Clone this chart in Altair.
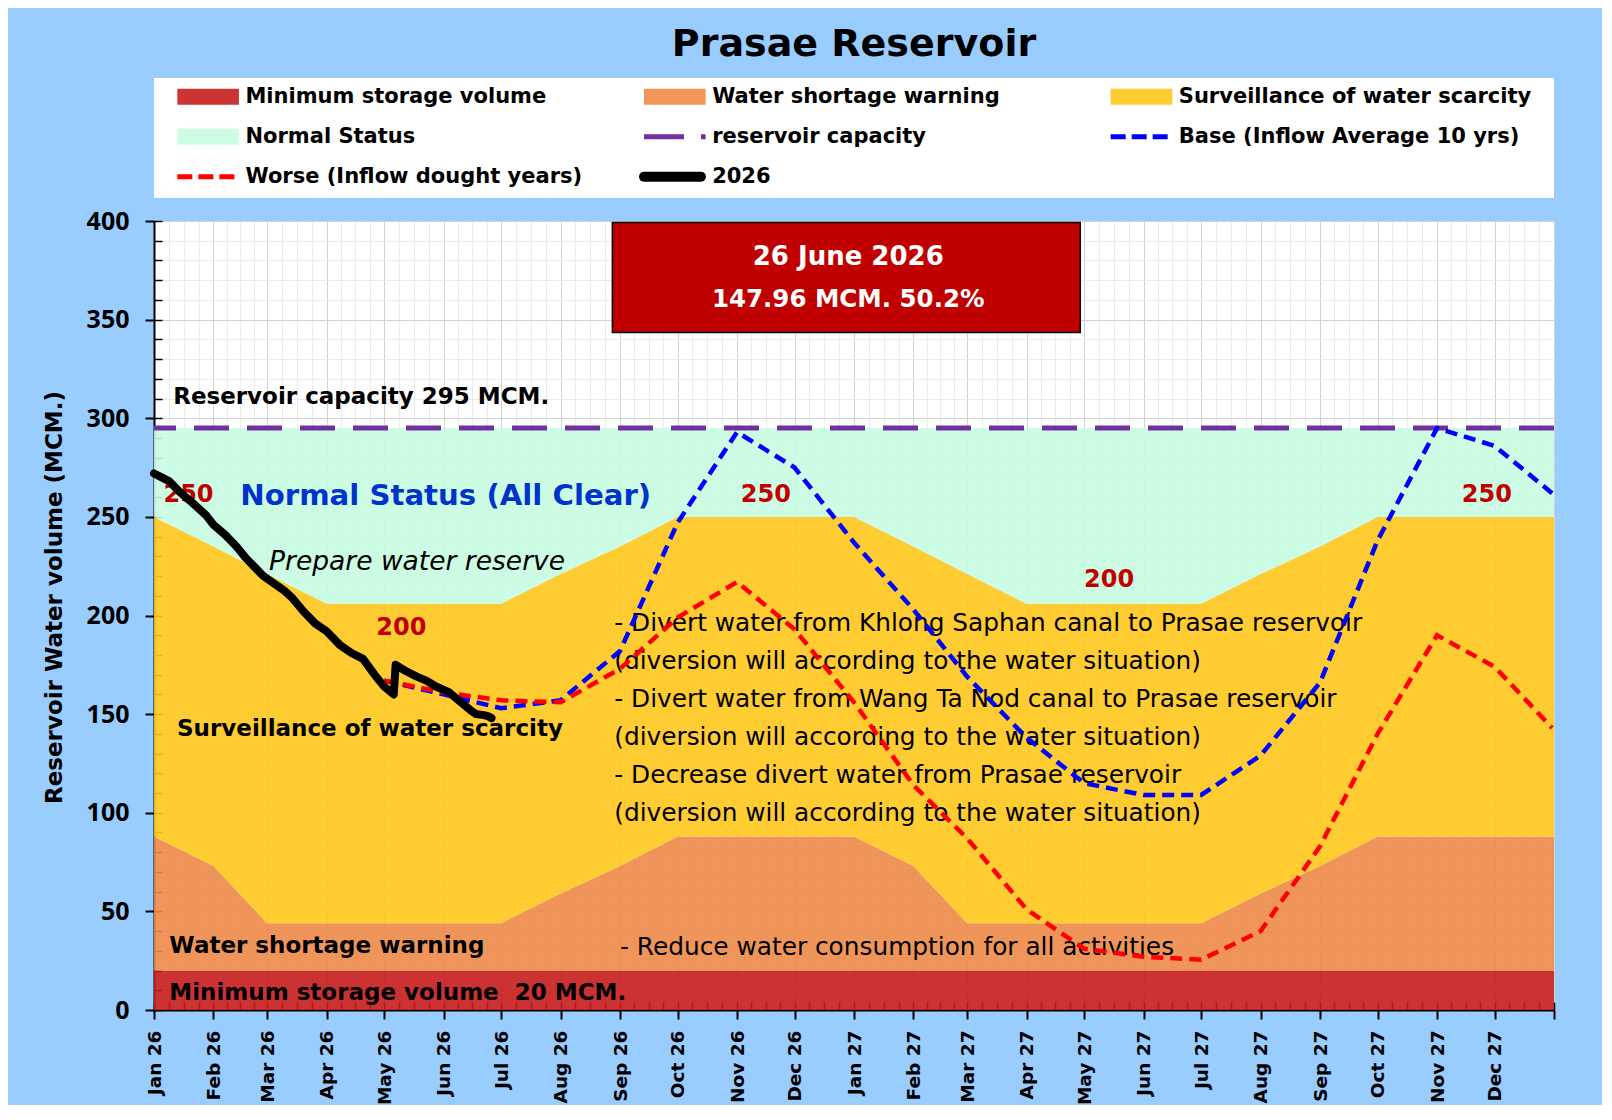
import altair as alt
import pandas as pd

# ---------------- data ----------------
month_dates = [
    "2026-01-01", "2026-02-01", "2026-03-01", "2026-04-01", "2026-05-01", "2026-06-01",
    "2026-07-01", "2026-08-01", "2026-09-01", "2026-10-01", "2026-11-01", "2026-12-01",
    "2027-01-01", "2027-02-01", "2027-03-01", "2027-04-01", "2027-05-01", "2027-06-01",
    "2027-07-01", "2027-08-01", "2027-09-01", "2027-10-01", "2027-11-01", "2027-12-01",
    "2028-01-01"]
upper_rule = [250, 235, 221, 206, 206, 206, 206, 221, 235, 250, 250, 250, 250,
              235, 221, 206, 206, 206, 206, 221, 235, 250, 250, 250, 250]
lower_rule = [88, 73, 44, 44, 44, 44, 44, 59, 73, 88, 88, 88, 88,
              73, 44, 44, 44, 44, 44, 59, 73, 88, 88, 88, 88]
min_storage = 20
capacity = 295

forecast_dates = [
    "2026-05-01", "2026-06-01", "2026-07-01", "2026-08-01", "2026-09-01", "2026-10-01",
    "2026-11-01", "2026-12-01", "2027-01-01", "2027-02-01", "2027-03-01", "2027-04-01",
    "2027-05-01", "2027-06-01", "2027-07-01", "2027-08-01", "2027-09-01", "2027-10-01",
    "2027-11-01", "2027-12-01", "2027-12-31"]
base_inflow = [167, 160, 153, 157, 182, 247, 293, 275, 237, 203, 169, 138, 115,
               109, 109, 129, 166, 238, 295, 286, 262]
worse_inflow = [167, 161, 157, 156, 173, 199, 217, 193, 156, 114, 87, 51, 31,
                27, 25.5, 40, 83, 140, 190, 174, 143]

obs_dates = [
    "2026-01-01", "2026-01-05", "2026-01-09", "2026-01-14", "2026-01-20", "2026-01-28",
    "2026-02-01", "2026-02-07", "2026-02-13", "2026-02-18", "2026-02-23", "2026-02-27",
    "2026-03-05", "2026-03-10", "2026-03-14", "2026-03-20", "2026-03-26", "2026-04-01",
    "2026-04-08", "2026-04-14", "2026-04-20", "2026-04-26", "2026-05-01", "2026-05-06",
    "2026-05-07", "2026-05-12", "2026-05-18", "2026-05-23", "2026-05-28", "2026-06-04",
    "2026-06-10", "2026-06-15", "2026-06-18", "2026-06-22", "2026-06-24", "2026-06-26"]
obs_2026 = [272, 270, 268, 263, 258, 251, 246, 241, 235, 229, 224, 220, 216, 212.5,
            209, 202, 196, 192, 185, 181, 178, 170, 164, 160, 175, 172, 169, 167,
            164, 161, 156, 152, 150, 149.5, 149, 147.96]

legend_labels = ["Minimum storage volume", "Water shortage warning",
                 "Surveillance of water scarcity", "Normal Status", "reservoir capacity",
                 "Base (Inflow Average 10 yrs)", "Worse (Inflow dought years)", "2026"]

# annotation texts
zone_texts = ["Reservoir capacity 295 MCM.", "Surveillance of water scarcity",
              "Water shortage warning", "Minimum storage volume\u00a0 20 MCM."]
zone_dates = ["2026-01-11", "2026-01-13", "2026-01-09", "2026-01-09"]
zone_values = [310.6, 142.6, 32.6, 8.6]

rule_texts = ["250", "200", "250", "200", "250"]
rule_dates = ["2026-01-19", "2026-05-10", "2026-11-16", "2027-05-14", "2027-11-27"]
rule_values = [261, 193.8, 261, 218, 261]

action_texts = [
    "- Divert water from Khlong Saphan canal to Prasae reservoir",
    "(diversion will according to the water situation)",
    "- Divert water from Wang Ta Nod canal to Prasae reservoir",
    "(diversion will according to the water situation)",
    "- Decrease divert water from Prasae reservoir",
    "(diversion will according to the water situation)",
    "- Reduce water consumption for all activities"]
action_dates = ["2026-08-29"] * 6 + ["2026-09-01"]
action_values = [195.8, 176.5, 157.2, 137.9, 118.6, 99.3, 31.6]

box_texts = ["26 June 2026", "147.96 MCM. 50.2%"]
box_text_values = [382, 360]

# ---------------- colours / fonts ----------------
BG = "#99CCFF"
C_RED, C_ORANGE, C_YELLOW, C_GREEN = "#CC3333", "#F0965A", "#FFCC33", "#CCFCE4"
F_RED, F_ORANGE, F_YELLOW, F_GREEN = "#C61C1C", "#EE8A48", "#FFC61C", "#C6FCE1"
PURPLE = "#7030A0"
FONT = "DejaVu Sans"

# ---------------- frames ----------------
bands = pd.DataFrame({"date": month_dates, "lower": lower_rule, "upper": upper_rule})
bands["floor"] = 0
bands["minv"] = min_storage
bands["cap"] = capacity

fc = pd.DataFrame({"date": forecast_dates, "base": base_inflow, "worse": worse_inflow})
obs = pd.DataFrame({"date": obs_dates, "v": obs_2026})

md = pd.to_datetime(month_dates, utc=True)
major_ticks = [int(t.timestamp() * 1000) for t in md]
minor_ticks = []
for a, b in zip(md[:-1], md[1:]):
    for k in range(4):
        minor_ticks.append(int((a + (b - a) * k / 4).timestamp() * 1000))
minor_ticks.append(major_ticks[-1])

W, H = 1400, 789
XS = alt.Scale(type="utc", nice=False,
               domain=[alt.DateTime(year=2026, month=1, date=1, utc=True),
                       alt.DateTime(year=2028, month=1, date=1, utc=True)])
YS = alt.Scale(domain=[0, 400], nice=False)

x_grid = alt.Axis(values=minor_ticks, orient="bottom", labels=False, ticks=False,
                  domain=False, grid=True, gridColor="#EAEAEA", gridWidth=1, title=None)
y_grid = alt.Axis(values=list(range(0, 401, 10)), orient="left", labels=False,
                  ticks=False, domain=False, grid=True, gridColor="#EAEAEA",
                  gridWidth=1, title=None)
x_major = alt.Axis(values=major_ticks, orient="bottom",
                   labelExpr=f"datum.value >= {major_ticks[-1]} ? '' : utcFormat(datum.value, '%b %y')",
                   labelAngle=270, labelFont=FONT, labelFontWeight="bold",
                   labelFontSize=18.5, labelColor="black", labelPadding=11,
                   labelFlush=False, labelOverlap=False, labelBound=False,
                   tickSize=9, tickWidth=2, tickColor="black",
                   domainColor="black", domainWidth=2, grid=True,
                   gridColor="#D2D2D2", gridWidth=1, title=None)
y_major = alt.Axis(values=list(range(0, 401, 50)), orient="left",
                   labelFont="Noto Sans", labelFontWeight="bold", labelFontSize=25,
                   labelColor="black", labelPadding=16, tickSize=9, tickWidth=2,
                   tickColor="black", domainColor="black", domainWidth=2, grid=True,
                   gridColor="#D2D2D2", gridWidth=1,
                   title="Reservoir Water volume (MCM.)", titleFont=FONT,
                   titleFontSize=23, titleFontWeight="bold", titleColor="black",
                   titlePadding=20, titleY=376)
x_in = alt.Axis(values=minor_ticks, orient="top", offset=-H, labels=False,
                domain=False, grid=False, tickSize=8, tickWidth=1.5,
                tickColor="black", title=None)
y_in = alt.Axis(values=list(range(0, 401, 10)), orient="right", offset=-W,
                labels=False, domain=False, grid=False, tickSize=8, tickWidth=1.5,
                tickColor="black", title=None)


def X(field="date", axis=None):
    return alt.X(f"{field}:T", scale=XS, axis=axis, title=None)


def Y(field, axis=None):
    return alt.Y(f"{field}:Q", scale=YS, axis=axis)


b = alt.Chart(bands)
red_band = b.mark_area(color=F_RED, opacity=0.9).encode(
    x=X(axis=x_grid), y=Y("floor", y_grid), y2="minv:Q")
orange_band = b.mark_area(color=F_ORANGE, opacity=0.9).encode(
    x=X(axis=x_major), y=Y("minv", y_major), y2="lower:Q")
yellow_band = b.mark_area(color=F_YELLOW, opacity=0.9).encode(
    x=X(axis=x_in), y=Y("lower", y_in), y2="upper:Q")
green_band = b.mark_area(color=F_GREEN, opacity=0.9).encode(
    x=X(), y=Y("upper"), y2="cap:Q")

cap_rule = alt.Chart(bands.head(1)).mark_rule(
    color=PURPLE, strokeWidth=5, strokeDash=[35, 18]).encode(
    y=Y("cap"))

box_df = pd.DataFrame({"x0": ["2026-08-28"], "x1": ["2027-04-29"],
                       "y0": [343.5], "y1": [399.3]})
box = alt.Chart(box_df).mark_rect(fill="#C00000", stroke="black", strokeWidth=1.5).encode(
    x=X("x0"), x2="x1:T", y=Y("y0"), y2="y1:Q")

box_txt_df = pd.DataFrame({"date": ["2026-12-29"] * 2, "v": box_text_values,
                           "t": box_texts, "fs": [26, 24.5]})
box_txt = alt.Chart(box_txt_df).mark_text(
    font=FONT, fontWeight="bold", color="white",
    align="center", baseline="middle").encode(
    x=X(), y=Y("v"), text="t:N", size=alt.Size("fs:Q", scale=None, legend=None))

zone_df = pd.DataFrame({"date": zone_dates, "v": zone_values, "t": zone_texts})
zone_txt = alt.Chart(zone_df).mark_text(
    font=FONT, fontWeight="bold", fontSize=23, color="black",
    align="left", baseline="middle").encode(x=X(), y=Y("v"), text="t:N")

rule_df = pd.DataFrame({"date": rule_dates, "v": rule_values, "t": rule_texts})
rule_txt = alt.Chart(rule_df).mark_text(
    font=FONT, fontWeight="bold", fontSize=24, color="#C00000",
    align="center", baseline="middle").encode(x=X(), y=Y("v"), text="t:N")

normal_df = pd.DataFrame({"date": ["2026-02-15"], "v": [260.5], "t": ["Normal Status (All Clear)"]})
normal_txt = alt.Chart(normal_df).mark_text(
    font=FONT, fontWeight="bold", fontSize=29.2, color="#0033CC",
    align="left", baseline="middle").encode(x=X(), y=Y("v"), text="t:N")

prep_df = pd.DataFrame({"date": ["2026-03-02"], "v": [227], "t": ["Prepare water reserve"]})
prep_txt = alt.Chart(prep_df).mark_text(
    font=FONT, fontStyle="italic", fontSize=26.5, color="black",
    align="left", baseline="middle").encode(x=X(), y=Y("v"), text="t:N")

act_df = pd.DataFrame({"date": action_dates, "v": action_values, "t": action_texts})
act_txt = alt.Chart(act_df).mark_text(
    font=FONT, fontSize=24.8, color="black",
    align="left", baseline="middle").encode(x=X(), y=Y("v"), text="t:N")

fcc = alt.Chart(fc)
base_line = fcc.mark_line(color="#0000FF", strokeWidth=4.5, strokeDash=[12, 7]).encode(
    x=X(), y=Y("base"))
worse_line = fcc.mark_line(color="#FF0000", strokeWidth=4.5, strokeDash=[12, 7]).encode(
    x=X(), y=Y("worse"))
obs_line = alt.Chart(obs).mark_line(color="black", strokeWidth=8, strokeCap="round",
                                    strokeJoin="round").encode(x=X(), y=Y("v"))

main = alt.layer(
    red_band, orange_band, yellow_band, green_band, cap_rule, box, box_txt,
    zone_txt, rule_txt, normal_txt, prep_txt, act_txt,
    base_line, worse_line, obs_line
).resolve_axis(x="independent", y="independent").properties(width=W, height=H)

# ---------------- legend panel ----------------
cols = [0, 1, 2, 0, 1, 2, 0, 1]
rows = [0, 0, 0, 1, 1, 1, 2, 2]
leg = pd.DataFrame({"label": legend_labels, "col": cols, "row": rows})
leg["x0"] = leg["col"] + 0.05
leg["x1"] = leg["col"] + 0.182
leg["xt"] = leg["col"] + 0.196
leg["yc"] = leg["row"] + 0.47
leg["ylo"] = leg["yc"] - 0.2
leg["yhi"] = leg["yc"] + 0.2
leg["fill"] = [C_RED, C_ORANGE, C_YELLOW, C_GREEN, "", "", "", ""]

LX = alt.Scale(domain=[0, 3], nice=False, zero=False)
LY = alt.Scale(domain=[0, 3], nice=False, zero=False, reverse=True)

leg_rects = alt.Chart(leg.head(4)).mark_rect().encode(
    x=alt.X("x0:Q", scale=LX, axis=None), x2="x1:Q",
    y=alt.Y("ylo:Q", scale=LY, axis=None), y2="yhi:Q",
    color=alt.Color("fill:N", scale=None))


def leg_rule(i, color, width, dash=None, cap="butt", extra=0.0):
    d = leg.iloc[[i]].copy()
    d["x1"] = d["x1"] + extra
    kw = dict(color=color, strokeWidth=width, strokeCap=cap)
    if dash:
        kw["strokeDash"] = dash
    return alt.Chart(d).mark_rule(**kw).encode(
        x=alt.X("x0:Q", scale=LX, axis=None), x2="x1:Q",
        y=alt.Y("yc:Q", scale=LY, axis=None))


leg_cap = leg_rule(4, PURPLE, 5, [40, 17, 5, 60])
leg_base = leg_rule(5, "#0000FF", 5, [15, 6])
leg_worse = leg_rule(6, "#FF0000", 5, [15, 6])
leg_obs = leg_rule(7, "black", 10, None, "round", -0.01)

leg_text = alt.Chart(leg).mark_text(
    font=FONT, fontWeight="bold", fontSize=21, color="black",
    align="left", baseline="middle").encode(
    x=alt.X("xt:Q", scale=LX, axis=None), y=alt.Y("yc:Q", scale=LY, axis=None),
    text="label:N")

legend_panel = alt.layer(leg_rects, leg_cap, leg_base, leg_worse, leg_obs, leg_text).properties(
    width=W, height=120,
    title=alt.TitleParams("Prasae Reservoir", fontSize=38, fontWeight="bold",
                          font=FONT, color="black", anchor="middle",
                          frame="group", offset=14))

chart = alt.vconcat(legend_panel, main, spacing=11).properties(
    background=BG, padding={"left": 35, "top": 18, "right": 38, "bottom": 0}
).configure_view(stroke=None, fill="white")

chart.save("out.html", embed_options={"renderer": "svg", "actions": False})
